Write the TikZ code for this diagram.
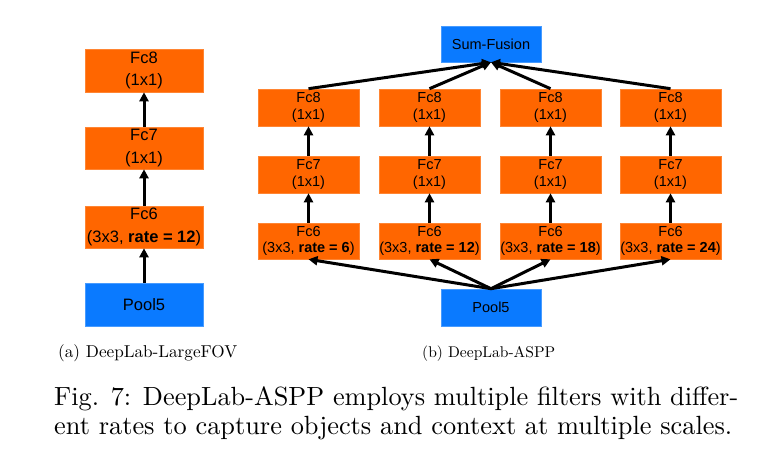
\documentclass[tikz,border=0pt]{standalone}
\usepackage{fontspec}
\newfontfamily\boxfont{Liberation Sans}
\usetikzlibrary{arrows.meta}
\definecolor{fcorange}{RGB}{255,102,0}
\definecolor{poolblue}{RGB}{10,122,255}
\begin{document}
\begin{tikzpicture}[x=1pt,y=-1pt,
  bigbox/.style={rectangle,inner sep=0pt,minimum width=118pt,minimum height=43pt,align=center,
    font=\boxfont\fontsize{16.5}{22.5}\selectfont},
  smallbox/.style={rectangle,inner sep=0pt,minimum width=101pt,minimum height=37pt,align=center,
    font=\boxfont\fontsize{14.5}{16.5}\selectfont},
  fcbox/.style={fill=fcorange,draw=fcorange!80!white,line width=0.6pt},
  poolbox/.style={fill=poolblue,draw=poolblue!75!white,line width=0.6pt},
  conn/.style={line width=3pt,-{Triangle[length=9pt,width=9pt]}},
  captext/.style={inner sep=0pt,anchor=base west}]
\useasboundingbox (0,0) rectangle (757,449);
% left column
\node[bigbox,fcbox] (lfc8) at (144,70.5) {Fc8\\(1x1)};
\node[bigbox,fcbox,minimum height=42pt] (lfc7) at (144,148) {Fc7\\(1x1)};
\node[bigbox,fcbox,minimum height=42pt] (lfc6) at (144,227) {Fc6\\(3x3, \textbf{rate = 12})};
\node[bigbox,poolbox] (lpool) at (144,304.5) {Pool5};
\draw[conn] (lpool) -- (lfc6);
\draw[conn] (lfc6) -- (lfc7);
\draw[conn] (lfc7) -- (lfc8);
% right part
\node[smallbox,poolbox,minimum width=100pt,minimum height=36pt] (sum) at (491,44) {Sum-Fusion};
\node[smallbox,poolbox,minimum width=100pt] (rpool) at (491,307.5) {Pool5};
\foreach \i/\x/\r in {1/308.5/6,2/429.5/12,3/550.5/18,4/670.5/24}{
  \node[smallbox,fcbox] (fc8\i) at (\x,107.5) {Fc8\\(1x1)};
  \node[smallbox,fcbox] (fc7\i) at (\x,174.5) {Fc7\\(1x1)};
  \node[smallbox,fcbox,minimum height=36pt] (fc6\i) at (\x,241) {Fc6\\(3x3, \textbf{rate = \r})};
  \draw[conn] (fc6\i) -- (fc7\i);
  \draw[conn] (fc7\i) -- (fc8\i);
  \draw[conn] (fc8\i.north) -- (sum.south);
  \draw[conn] (rpool.north) -- (fc6\i.south);
}
% captions
\node[captext] (capa) at (58,357) {\resizebox{179pt}{!}{(a) DeepLab-LargeFOV}};
\node[captext] (capb) at (422,357) {\resizebox{133pt}{!}{(b) DeepLab-ASPP}};
\node[captext] (cap1) at (54,405) {\resizebox{684pt}{!}{Fig. 7: DeepLab-ASPP employs multiple filters with differ-}};
\node[captext] (cap2) at (54,434) {\resizebox{678pt}{!}{ent rates to capture objects and context at multiple scales.}};
\end{tikzpicture}
\end{document}
